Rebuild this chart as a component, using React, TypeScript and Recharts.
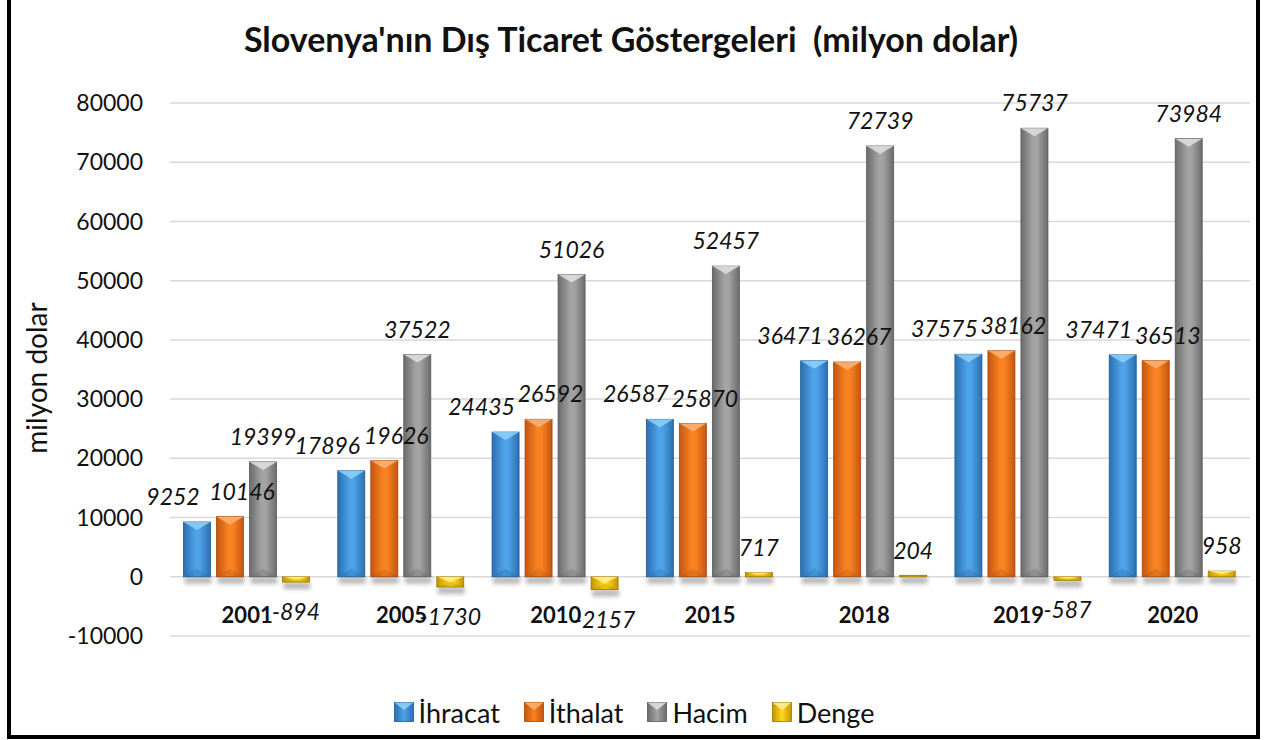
import React from "react";
import {
  BarChart,
  Bar,
  XAxis,
  YAxis,
  CartesianGrid,
  Legend,
  LabelList,
} from "recharts";

// veriler (milyon dolar)
const years = ["2001", "2005", "2010", "2015", "2018", "2019", "2020"];
const ihracat = [9252, 17896, 24435, 26587, 36471, 37575, 37471];
const ithalat = [10146, 19626, 26592, 25870, 36267, 38162, 36513];
const hacim = [19399, 37522, 51026, 52457, 72739, 75737, 73984];
const denge = [-894, -1730, -2157, 717, 204, -587, 958];
const yTicks = [-10000, 0, 10000, 20000, 30000, 40000, 50000, 60000, 70000, 80000];

const data = years.map((year, i) => ({
  year,
  ihracat: ihracat[i],
  ithalat: ithalat[i],
  hacim: hacim[i],
  denge: denge[i],
}));

const FONT = "Lato, 'Open Sans', sans-serif";

interface Tone {
  id: string;
  edge: string;
  mid: string;
  light: string;
  dark: string;
}

const tones: Record<string, Tone> = {
  ihracat: { id: "gBlue", edge: "#2c6fb0", mid: "#4da2e8", light: "#8fd0f8", dark: "#1f5a94" },
  ithalat: { id: "gOrange", edge: "#c4560f", mid: "#f98322", light: "#fcb474", dark: "#a3470b" },
  hacim: { id: "gGray", edge: "#6c6c6c", mid: "#a3a3a3", light: "#e0e0e0", dark: "#585858" },
  denge: { id: "gYellow", edge: "#c39300", mid: "#ffd81a", light: "#fff09a", dark: "#9c7600" },
};

const series = [
  { key: "ihracat", name: "İhracat", dx: -24 },
  { key: "ithalat", name: "İthalat", dx: 12 },
  { key: "hacim", name: "Hacim", dx: 0 },
  { key: "denge", name: "Denge", dx: 0 },
];

const BevelBar = (props: any) => {
  const { x, y, width, height, tone } = props;
  if (width == null || height == null) return null;
  const top = height < 0 ? y + height : y;
  const h = Math.abs(height);
  const w = width;
  const b = Math.min(8, h / 2, w / 3);
  const t: Tone = tone;
  return (
    <g>
      <rect x={x + 1} y={top + h} width={w} height={7} fill="rgba(0,0,0,0.28)" filter="url(#barShadow)" />
      <rect x={x} y={top} width={w} height={h} fill={`url(#${t.id})`} stroke={t.dark} strokeWidth={0.8} />
      {h > 2 && (
        <>
          <polygon points={`${x},${top} ${x + w},${top} ${x + w / 2},${top + b}`} fill={t.light} opacity={0.85} />
          <polygon
            points={`${x},${top + h} ${x + w},${top + h} ${x + w / 2},${top + h - b}`}
            fill={t.dark}
            opacity={0.25}
          />
        </>
      )}
    </g>
  );
};

const makeLabel = (dx: number) => (props: any) => {
  const vb = props.viewBox || {};
  const x = props.x ?? vb.x;
  const y = props.y ?? vb.y;
  const width = props.width ?? vb.width;
  const height = props.height ?? vb.height;
  const value = props.value;
  if (x == null || y == null) return null;
  const top = height < 0 ? y + height : y;
  const bottom = top + Math.abs(height);
  const cx = x + width / 2 + dx;
  const ty = value < 0 ? bottom + 38 : top - 17;
  return (
    <text x={cx} y={ty} textAnchor="middle" fontFamily={FONT} fontStyle="italic" fontSize={23} fill="#111">
      {value}
    </text>
  );
};

const CatTick = (props: any) => {
  const { x, y, payload } = props;
  return (
    <text x={x} y={y - 13} textAnchor="middle" fontFamily={FONT} fontWeight={700} fontSize={22} fill="#111">
      {payload.value}
    </text>
  );
};

const YTitle = () => (
  <text
    x={36}
    y={378}
    transform="rotate(-90 36 378)"
    textAnchor="middle"
    dominantBaseline="central"
    fontFamily={FONT}
    fontSize={28}
    fill="#111"
  >
    milyon dolar
  </text>
);

const LegendIcon = ({ tone }: { tone: Tone }) => (
  <svg width={20} height={20} style={{ display: "block" }}>
    <rect x={0.5} y={0.5} width={19} height={19} fill={`url(#${tone.id}L)`} stroke={tone.dark} strokeWidth={0.8} />
    <polygon points="0.5,0.5 19.5,0.5 10,8" fill={tone.light} opacity={0.85} />
    <defs>
      <linearGradient id={`${tone.id}L`} x1="0" y1="0" x2="1" y2="0">
        <stop offset="0" stopColor={tone.edge} />
        <stop offset="0.5" stopColor={tone.mid} />
        <stop offset="1" stopColor={tone.edge} />
      </linearGradient>
    </defs>
  </svg>
);

const LegendContent = () => (
  <div style={{ display: "flex", justifyContent: "center", alignItems: "center", height: 40 }}>
    {series.map((s, i) => (
      <div key={s.key} style={{ display: "flex", alignItems: "center", marginLeft: i === 0 ? 0 : 24 }}>
        <LegendIcon tone={tones[s.key]} />
        <span style={{ fontFamily: FONT, fontSize: 27, color: "#111", marginLeft: 5 }}>{s.name}</span>
      </div>
    ))}
  </div>
);

export default function App() {
  return (
    <div
      style={{
        position: "fixed",
        left: 0,
        top: 0,
        width: 1268,
        height: 740,
        background: "#fff",
        overflow: "hidden",
      }}
    >
      <div
        style={{
          position: "absolute",
          left: 7,
          top: -5,
          width: 1253,
          height: 744,
          border: "4px solid #000",
          boxSizing: "border-box",
        }}
      />
      <div
        style={{
          position: "absolute",
          left: 0,
          top: 17,
          width: 1262,
          height: 44,
          lineHeight: "44px",
          textAlign: "center",
          fontFamily: FONT,
          fontWeight: 700,
          fontSize: 34,
          color: "#111",
          whiteSpace: "pre",
        }}
      >
        {"Slovenya'nın Dış Ticaret Göstergeleri  (milyon dolar)"}
      </div>
      <div style={{ position: "absolute", left: 0, top: 0 }}>
        <BarChart
          width={1268}
          height={740}
          data={data}
          margin={{ top: 103, right: 18, bottom: 74, left: 0 }}
          barCategoryGap="8.75%"
          barGap={6}
        >
          <defs>
            {Object.values(tones).map((t) => (
              <linearGradient key={t.id} id={t.id} x1="0" y1="0" x2="1" y2="0">
                <stop offset="0" stopColor={t.edge} />
                <stop offset="0.45" stopColor={t.mid} />
                <stop offset="0.6" stopColor={t.mid} />
                <stop offset="1" stopColor={t.edge} />
              </linearGradient>
            ))}
            <filter id="barShadow" x="-20%" y="-100%" width="140%" height="300%">
              <feGaussianBlur stdDeviation="2.2" />
            </filter>
          </defs>
          <CartesianGrid vertical={false} stroke="#d9d9d9" strokeWidth={1.5} />
          <XAxis
            dataKey="year"
            height={30}
            axisLine={false}
            tickLine={false}
            tickSize={0}
            tickMargin={0}
            interval={0}
            tick={<CatTick />}
          />
          <YAxis
            type="number"
            domain={[-10000, 80000]}
            ticks={yTicks}
            interval={0}
            width={170}
            axisLine={false}
            tickLine={false}
            tickMargin={21}
            tick={{ fontFamily: FONT, fontSize: 23, fill: "#111" }}
            label={<YTitle />}
          />
          <Legend
            verticalAlign="middle"
            align="center"
            wrapperStyle={{ top: 692, left: 0, width: 1268 }}
            content={<LegendContent />}
          />
          {series.map((s) => (
            <Bar
              key={s.key}
              dataKey={s.key}
              name={s.name}
              fill={tones[s.key].mid}
              isAnimationActive={false}
              shape={(p: any) => <BevelBar {...p} tone={tones[s.key]} />}
            >
              <LabelList dataKey={s.key} content={makeLabel(s.dx)} />
            </Bar>
          ))}
        </BarChart>
      </div>
    </div>
  );
}
